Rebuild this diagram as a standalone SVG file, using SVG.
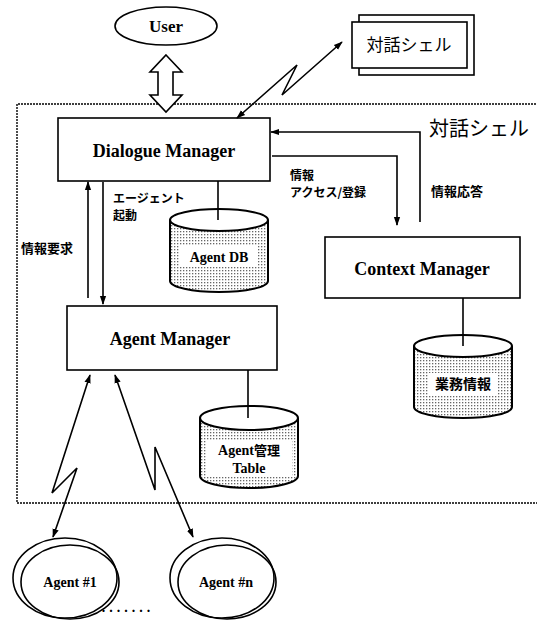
<svg xmlns="http://www.w3.org/2000/svg" width="537" height="627" viewBox="0 0 537 627">
<style>
.bx{fill:#fff;stroke:#000;stroke-width:1.6}
.ring{fill:none;stroke:#000;stroke-width:1.6}
.ln{fill:none;stroke:#000;stroke-width:1.6}
.en{font-family:"Liberation Serif",serif;font-weight:bold;fill:#000;text-anchor:middle}
.jp{font-family:"Noto Sans CJK JP",sans-serif;font-weight:bold;fill:#000}
.cyl{fill:url(#dots);stroke:#000;stroke-width:2}
</style>
<defs>
<pattern id="dots" width="3" height="3" patternUnits="userSpaceOnUse">
<rect width="3" height="3" fill="#fff"/>
<rect x="0" y="0" width="1.3" height="1.3" fill="#666"/>
</pattern>
<marker id="ah" viewBox="0 0 10 10" refX="9" refY="5" markerWidth="9" markerHeight="9" markerUnits="userSpaceOnUse" orient="auto-start-reverse">
<path d="M0,1.5 L10,5 L0,8.5 Z" fill="#000"/>
</marker>
</defs>

<g id="frame">
<path d="M545,104 H17 V503 H545" fill="none" stroke="#000" stroke-width="1.4" stroke-dasharray="2,1"/>
</g>

<g id="user">
<ellipse cx="166" cy="26" rx="51" ry="19" class="bx"/>
<text x="166" y="32" class="en" font-size="17">User</text>
</g>

<g id="shell-top">
<rect x="359" y="15" width="115" height="60" class="bx"/>
<rect x="352" y="22" width="115" height="46" class="bx"/>
<text x="409" y="51" class="jp" font-size="17" text-anchor="middle" style="font-weight:normal">対話シェル</text>
</g>

<g id="dialogue">
<rect x="58" y="118" width="212" height="63" class="bx"/>
<text x="164" y="157" class="en" font-size="18">Dialogue Manager</text>
</g>

<g id="agentdb">
<path d="M170,220 V281 A49,11 0 0 0 268,281 V220" class="cyl"/>
<ellipse cx="219" cy="220" rx="49" ry="11" fill="#fff" stroke="#000" stroke-width="2"/>
<rect x="180" y="246" width="78" height="20" fill="#fff"/>
<text x="219" y="262" class="en" font-size="14">Agent DB</text>
</g>

<g id="agentmgr">
<rect x="67" y="306" width="210" height="64" class="bx"/>
<text x="170" y="345" class="en" font-size="18">Agent Manager</text>
</g>

<g id="agenttable">
<path d="M200,418 V476 A49,12 0 0 0 298,476 V418" class="cyl"/>
<ellipse cx="249" cy="418" rx="49" ry="12" fill="#fff" stroke="#000" stroke-width="2"/>
<rect x="206" y="440" width="86" height="36" fill="#fff"/>
<text x="249" y="455" class="en" font-size="14">Agent<tspan font-family="Noto Sans CJK JP,sans-serif" font-size="13">管理</tspan></text>
<text x="249" y="473" class="en" font-size="14">Table</text>
</g>

<g id="context">
<rect x="325" y="237" width="195" height="61" class="bx"/>
<text x="422" y="275" class="en" font-size="18">Context Manager</text>
</g>

<g id="gyomu">
<path d="M414,346 V407 A49,11 0 0 0 512,407 V346" class="cyl"/>
<ellipse cx="463" cy="346" rx="49" ry="11" fill="#fff" stroke="#000" stroke-width="2"/>
<rect x="428" y="373" width="70" height="22" fill="#fff"/>
<text x="463" y="389" class="jp" font-size="14" text-anchor="middle">業務情報</text>
</g>

<g id="agent1">
<ellipse cx="65" cy="578" rx="52" ry="40" class="ring"/>
<ellipse cx="70" cy="582" rx="49" ry="37" class="ring"/>
<text x="70" y="587" class="en" font-size="14">Agent #1</text>
</g>

<g id="agentn">
<ellipse cx="222" cy="578" rx="52" ry="40" class="ring"/>
<ellipse cx="227" cy="582" rx="49" ry="37" class="ring"/>
<text x="226" y="587" class="en" font-size="14">Agent #n</text>
</g>

<g id="labels">
<text x="429" y="136" class="jp" font-size="20" style="font-weight:normal">対話シェル</text>
<text x="21" y="253" class="jp" font-size="13">情報要求</text>
<text x="113" y="203" class="jp" font-size="12">エージェント</text>
<text x="113" y="220" class="jp" font-size="12">起動</text>
<text x="290" y="180" class="jp" font-size="12">情報</text>
<text x="290" y="197" class="jp" font-size="12">アクセス/登録</text>
<text x="431" y="196" class="jp" font-size="13">情報応答</text>
<text x="128" y="612" class="en" font-size="14" text-anchor="start" letter-spacing="4">.......</text>
</g>

<g id="connectors">
<path d="M166,55 L182,72 H173 V95 H182 L166,112 L150,95 H158 V72 H150 Z" fill="#fff" stroke="#000" stroke-width="1.6"/>
<path d="M237,118 L297,65 L282,95 L342,42" class="ln" marker-start="url(#ah)" marker-end="url(#ah)"/>
<path d="M88,298 V182" class="ln" marker-end="url(#ah)"/>
<path d="M103,182 V304" class="ln" marker-end="url(#ah)"/>
<path d="M218,181 V220" class="ln"/>
<path d="M248,370 V418" class="ln"/>
<path d="M463,298 V346" class="ln"/>
<path d="M420,222 V132 H271" class="ln" marker-end="url(#ah)"/>
<path d="M272,156 H397 V225" class="ln" marker-end="url(#ah)"/>
<path d="M53,537 L77,468 L52,493 L90,375" class="ln" marker-start="url(#ah)" marker-end="url(#ah)"/>
<path d="M193,537 L155,447 V490 L115,375" class="ln" marker-start="url(#ah)" marker-end="url(#ah)"/>
</g>
</svg>
